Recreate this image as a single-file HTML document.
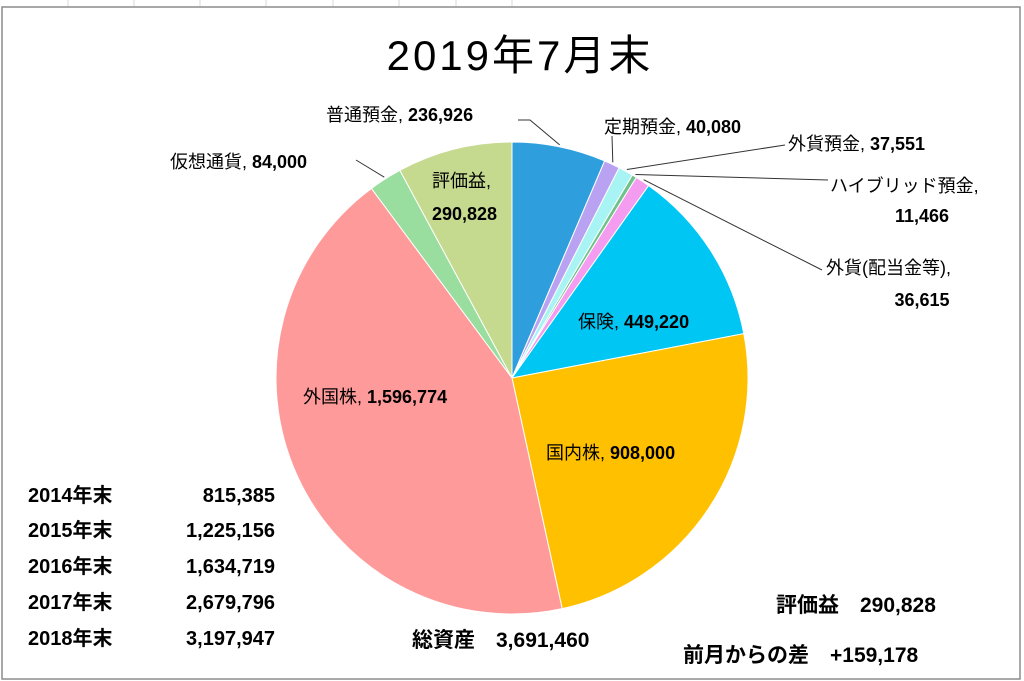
<!DOCTYPE html>
<html><head><meta charset="utf-8"><style>
body{margin:0;background:#fff;}
svg{display:block;font-family:"Liberation Sans","Noto Sans CJK JP",sans-serif;}
</style></head><body>
<svg width="1024" height="681" viewBox="0 0 1024 681">
<g stroke="#d8d8d8" stroke-width="1">
<line x1="68" y1="0" x2="68" y2="7"/><line x1="134" y1="0" x2="134" y2="7"/><line x1="200" y1="0" x2="200" y2="7"/><line x1="266" y1="0" x2="266" y2="7"/><line x1="333" y1="0" x2="333" y2="7"/><line x1="399" y1="0" x2="399" y2="7"/><line x1="456" y1="0" x2="456" y2="7"/><line x1="512" y1="0" x2="512" y2="7"/>
</g>
<rect x="2" y="7" width="1018" height="672" fill="#fff" stroke="#8c8c8c" stroke-width="1.5"/>
<text x="520" y="70" text-anchor="middle" font-size="42" letter-spacing="3" fill="#000">2019年7月末</text>
<g id="slices"></g>
<g id="labels" font-size="18" fill="#000"></g>
<g font-size="20" font-weight="bold" fill="#000">
<text x="28" y="502">2014年末</text><text x="275" y="502" text-anchor="end">815,385</text>
<text x="28" y="537">2015年末</text><text x="275" y="537" text-anchor="end">1,225,156</text>
<text x="28" y="573">2016年末</text><text x="275" y="573" text-anchor="end">1,634,719</text>
<text x="28" y="609">2017年末</text><text x="275" y="609" text-anchor="end">2,679,796</text>
<text x="28" y="645">2018年末</text><text x="275" y="645" text-anchor="end">3,197,947</text>
</g>
<g font-size="21" font-weight="bold" fill="#000">
<text x="412" y="647">総資産　3,691,460</text>
<text x="776" y="612">評価益　290,828</text>
<text x="683" y="662">前月からの差　+159,178</text>
</g>
</svg>
<script>
const categories=["普通預金","定期預金","外貨預金","ハイブリッド預金","外貨(配当金等)","保険","国内株","外国株","仮想通貨","評価益"];
const values=[236926,40080,37551,11466,36615,449220,908000,1596774,84000,290828];
const valueLabels=["236,926","40,080","37,551","11,466","36,615","449,220","908,000","1,596,774","84,000","290,828"];
const colors=["#2e9fdc","#b9a2f2","#a8f3f3","#6fc28a","#f49cf0","#00c6f4","#ffc000","#ff9a9a","#99dd9f","#c5da8e"];
const cx=512,cy=378,r=236;
const NS="http://www.w3.org/2000/svg";
const total=values.reduce((a,b)=>a+b,0);
function pt(a,rr){return [cx+rr*Math.sin(a),cy-rr*Math.cos(a)];}
const sg=document.getElementById('slices'),lg=document.getElementById('labels');
let acc=0;const mids=[];
values.forEach((v,i)=>{
 const a0=acc/total*2*Math.PI;acc+=v;const a1=acc/total*2*Math.PI;mids.push((a0+a1)/2);
 const p0=pt(a0,r),p1=pt(a1,r);
 const p=document.createElementNS(NS,'path');
 p.setAttribute('d',`M${cx},${cy}L${p0[0]},${p0[1]}A${r},${r} 0 ${a1-a0>Math.PI?1:0} 1 ${p1[0]},${p1[1]}Z`);
 p.setAttribute('fill',colors[i]);p.setAttribute('stroke','#fff');p.setAttribute('stroke-width','1');
 
 
 sg.appendChild(p);
});
const pos=[
 {x:326,y:121,inside:false,lx:518,ly:120},
 {x:604,y:133,inside:false,lx:612,ly:136},
 {x:788,y:150,inside:false,lx:785,ly:145},
 {x:830,y:192,inside:false,lx:828,ly:180},
 {x:826,y:274,inside:false,lx:822,ly:270},
 {x:578,y:328,inside:true},
 {x:546,y:459,inside:true},
 {x:303,y:403,inside:true},
 {x:170,y:168,inside:false,lx:356,ly:160},
 {x:432,y:187,inside:true}
];
categories.forEach((c,i)=>{
 const P=pos[i];
 const make=(x,y,s,anchor,bold)=>{const t=document.createElementNS(NS,'text');t.setAttribute('x',x);t.setAttribute('y',y);if(anchor)t.setAttribute('text-anchor',anchor);if(bold)t.setAttribute('font-weight','bold');t.textContent=s;
 
 
 lg.appendChild(t);};
 if(i===3){make(P.x,P.y,c+",",null);make(922,222,valueLabels[i],'middle',true);}
 else if(i===4){make(P.x,P.y,"外貨(配当金等),",null);make(922,306,valueLabels[i],'middle',true);}
 else if(i===9){make(P.x,P.y,c+",",null);make(P.x,P.y+33,valueLabels[i],null,true);}
 else make(P.x,P.y,c+", ",null),lg.lastChild.innerHTML=c+', <tspan font-weight="bold">'+valueLabels[i]+'</tspan>';
 if(!P.inside){
  const e=pt(mids[i],r+2);
  const l=document.createElementNS(NS,'polyline');
  l.setAttribute('points',`${P.lx},${P.ly} ${i===0?530:P.lx},${P.ly} ${e[0]},${e[1]}`);
  l.setAttribute('fill','none');l.setAttribute('stroke','#333');l.setAttribute('stroke-width','1');
  
  
  lg.appendChild(l);
 }
});
</script>
</body></html>
